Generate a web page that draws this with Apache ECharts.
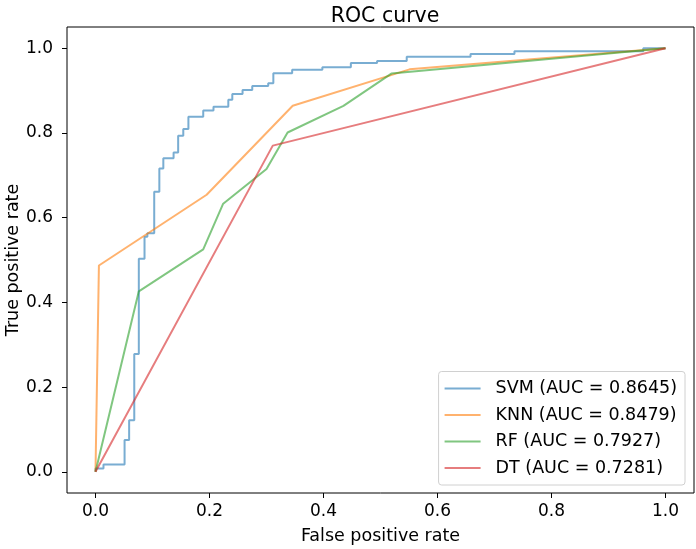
<!DOCTYPE html>
<html>
<head>
<meta charset="UTF-8">
<title>ROC curve</title>
<script src="https://cdn.jsdelivr.net/npm/echarts@6/dist/echarts.min.js"></script>
</head>
<body style="margin:0;background:#fff;">
<div id="main" style="width:696px;height:549px;"></div>
<script type="text/javascript">
// ROC points
var svmFpr = [0, 0, 0.014, 0.014, 0.051, 0.051, 0.059, 0.059, 0.068, 0.068, 0.076, 0.076, 0.086, 0.086, 0.091, 0.091,
  0.103, 0.103, 0.112, 0.112, 0.119, 0.119, 0.137, 0.137, 0.145, 0.145, 0.154, 0.154, 0.163, 0.163, 0.189, 0.189,
  0.207, 0.207, 0.233, 0.233, 0.240, 0.240, 0.258, 0.258, 0.275, 0.275, 0.303, 0.303, 0.312, 0.312, 0.345, 0.345,
  0.398, 0.398, 0.448, 0.448, 0.494, 0.494, 0.546, 0.546, 0.658, 0.658, 0.735, 0.735, 0.961, 0.961, 1];
var svmTpr = [0, 0.008, 0.008, 0.017, 0.017, 0.075, 0.075, 0.122, 0.122, 0.278, 0.278, 0.503, 0.503, 0.555, 0.555, 0.563,
  0.563, 0.661, 0.661, 0.716, 0.716, 0.740, 0.740, 0.754, 0.754, 0.793, 0.793, 0.809, 0.809, 0.838, 0.838, 0.853,
  0.853, 0.862, 0.862, 0.878, 0.878, 0.892, 0.892, 0.901, 0.901, 0.911, 0.911, 0.917, 0.917, 0.941, 0.941, 0.949,
  0.949, 0.955, 0.955, 0.965, 0.965, 0.970, 0.970, 0.980, 0.980, 0.986, 0.986, 0.993, 0.993, 1, 1];
var knnFpr = [0, 0.006, 0.195, 0.346, 0.551, 1];
var knnTpr = [0, 0.487, 0.654, 0.864, 0.950, 1];
var rfFpr = [0, 0.076, 0.189, 0.224, 0.300, 0.337, 0.435, 0.519, 1];
var rfTpr = [0, 0.426, 0.525, 0.633, 0.715, 0.801, 0.864, 0.940, 1];
var dtFpr = [0, 0.311, 1];
var dtTpr = [0, 0.770, 1];

var names = ['SVM (AUC = 0.8645)', 'KNN (AUC = 0.8479)', 'RF (AUC = 0.7927)', 'DT (AUC = 0.7281)'];
var colors = ['rgba(31,119,180,0.6)', 'rgba(255,127,14,0.6)', 'rgba(44,160,44,0.6)', 'rgba(214,39,40,0.6)'];
var ticks = [0, 0.2, 0.4, 0.6, 0.8, 1.0];

function pairs(xs, ys) {
  var out = [];
  for (var i = 0; i < xs.length; i++) out.push([xs[i], ys[i]]);
  return out;
}

var curves = [pairs(svmFpr, svmTpr), pairs(knnFpr, knnTpr), pairs(rfFpr, rfTpr), pairs(dtFpr, dtTpr)];
var font = 'DejaVu Sans';

function axis(name, gap) {
  return {
    type: 'value',
    min: -0.05,
    max: 1.05,
    name: name,
    nameLocation: 'middle',
    nameGap: gap,
    nameMoveOverlap: false,
    nameTextStyle: { fontFamily: font, fontSize: 17.5, color: '#000' },
    axisLine: { show: false, onZero: false },
    splitLine: { show: false },
    axisTick: { show: true, length: 5, customValues: ticks, lineStyle: { color: '#000' } },
    axisLabel: {
      customValues: ticks,
      fontFamily: font, fontSize: 17, color: '#000',
      formatter: function (v) { return v.toFixed(1); }
    }
  };
}

var chart = echarts.init(document.getElementById('main'));
var xa = axis('False positive rate', 34);
xa.axisLabel.margin = 10;
var ya = axis('True positive rate', 45);
ya.axisLabel.margin = 14;

chart.setOption({
  animation: false,
  title: {
    text: 'ROC curve',
    left: 380,
    top: 1,
    textAlign: 'center',
    textStyle: { fontFamily: font, fontSize: 20.5, fontWeight: 'normal', color: '#000' }
  },
  grid: {
    left: 67, right: 2, top: 27, bottom: 56,
    outerBoundsMode: 'none',
    containLabel: false,
    show: true, borderColor: '#000', borderWidth: 1, backgroundColor: '#fff'
  },
  legend: {
    orient: 'vertical',
    right: 11,
    bottom: 64,
    icon: 'rect',
    itemWidth: 36,
    itemHeight: 2,
    itemGap: 8.5,
    padding: [8, 8, 8, 6],
    backgroundColor: 'rgba(255,255,255,0.8)',
    borderColor: '#d0d0d0',
    borderWidth: 1,
    borderRadius: 3,
    textStyle: { fontFamily: font, fontSize: 17.5, color: '#000', padding: [0, 0, 0, 10] },
    data: names
  },
  xAxis: xa,
  yAxis: ya,
  series: curves.map(function (d, i) {
    return {
      name: names[i],
      type: 'line',
      data: d,
      symbol: 'none',
      color: colors[i],
      lineStyle: { width: 2, color: colors[i] }
    };
  })
});
</script>
</body>
</html>
